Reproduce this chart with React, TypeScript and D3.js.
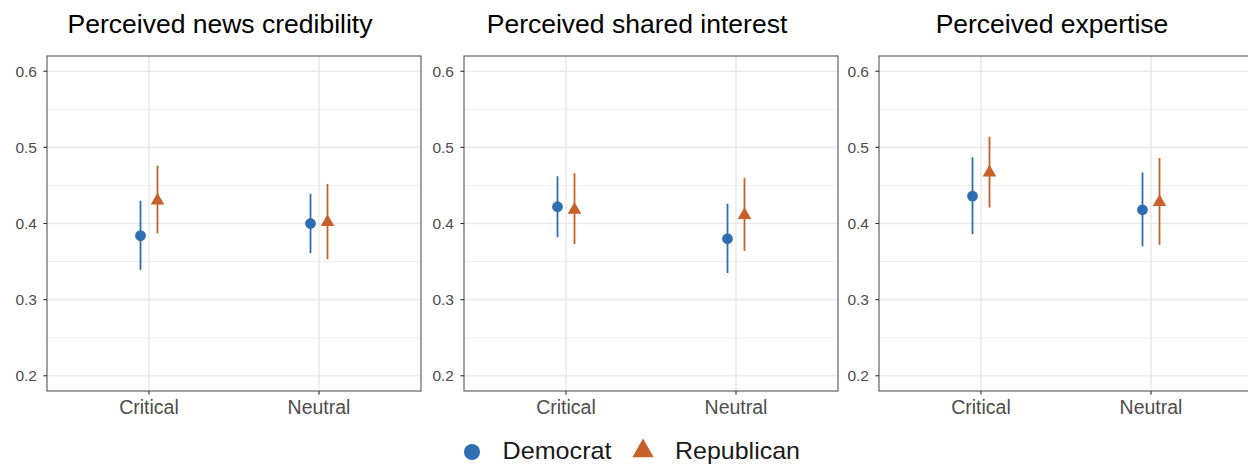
import React from "react";
import * as d3 from "d3";

const panelTitles = ["Perceived news credibility", "Perceived shared interest", "Perceived expertise"];
const conditions = ["Critical", "Neutral"];
const parties = ["Democrat", "Republican"];
const yTicks = [0.2, 0.3, 0.4, 0.5, 0.6];
const yMinorTicks = [0.25, 0.35, 0.45, 0.55];

// [panel][condition]
const demEstimate = [[0.384, 0.400], [0.422, 0.380], [0.436, 0.418]];
const demLower = [[0.339, 0.361], [0.382, 0.335], [0.386, 0.370]];
const demUpper = [[0.430, 0.439], [0.462, 0.426], [0.487, 0.467]];
const repEstimate = [[0.430, 0.402], [0.418, 0.411], [0.467, 0.428]];
const repLower = [[0.387, 0.353], [0.373, 0.364], [0.421, 0.372]];
const repUpper = [[0.476, 0.452], [0.466, 0.460], [0.514, 0.486]];

const W = 1248;
const H = 464;
const panelLefts = [47, 464, 879];
const panelWidth = 374;
const top = 56;
const bottom = 391;
const blue = "#2f6eb0";
const orange = "#c8602a";
const font = "'Liberation Sans', Arial, Helvetica, sans-serif";

export default function App() {
  const y = d3.scaleLinear().domain([0.18, 0.62]).range([bottom, top]);
  const partyColor = d3.scaleOrdinal<string, string>().domain(parties).range([blue, orange]);
  const dodge = d3.scaleOrdinal<string, number>().domain(parties).range([-8.5, 8.5]);
  const triSmall = d3.symbol().type(d3.symbolTriangle).size(80)()!;
  const triLegend = d3.symbol().type(d3.symbolTriangle).size(200)()!;

  const series = [
    { party: "Democrat", est: demEstimate, lo: demLower, hi: demUpper },
    { party: "Republican", est: repEstimate, lo: repLower, hi: repUpper },
  ];

  return (
    <svg width={W} height={H} style={{ position: "absolute", left: 0, top: 0, background: "#fff" }} fontFamily={font}>
      {panelTitles.map((title, pi) => {
        const left = panelLefts[pi];
        // ggplot discrete expansion: 0.6 units on each side of 2 categories
        const xc = d3.scaleLinear().domain([0.4, 2.6]).range([left, left + panelWidth]);
        const catX = (c: string) => xc(conditions.indexOf(c) + 1);
        return (
          <g key={title}>
            <defs>
              <clipPath id={`clip${pi}`}>
                <rect x={left} y={top} width={panelWidth} height={bottom - top} />
              </clipPath>
            </defs>
            <text x={left + panelWidth / 2 - 14} y={33} textAnchor="middle" fontSize={26.5} fill="#000">
              {title}
            </text>
            <g clipPath={`url(#clip${pi})`}>
              <rect x={left} y={top} width={panelWidth} height={bottom - top} fill="#fff" />
              {yMinorTicks.map((t) => (
                <line key={"m" + t} x1={left} x2={left + panelWidth} y1={y(t)} y2={y(t)} stroke="#ebebeb" strokeWidth={0.8} />
              ))}
              {yTicks.map((t) => (
                <line key={"M" + t} x1={left} x2={left + panelWidth} y1={y(t)} y2={y(t)} stroke="#ebebeb" strokeWidth={1.6} />
              ))}
              {conditions.map((c) => (
                <line key={c} x1={catX(c)} x2={catX(c)} y1={top} y2={bottom} stroke="#ebebeb" strokeWidth={1.6} />
              ))}
              {series.map((s) =>
                conditions.map((c, ci) => {
                  const px = catX(c) + dodge(s.party);
                  return (
                    <g key={s.party + c}>
                      <line
                        x1={px}
                        x2={px}
                        y1={y(s.lo[pi][ci])}
                        y2={y(s.hi[pi][ci])}
                        stroke={partyColor(s.party)}
                        strokeWidth={1.8}
                      />
                      {s.party === "Democrat" ? (
                        <circle cx={px} cy={y(s.est[pi][ci])} r={5.4} fill={partyColor(s.party)} />
                      ) : (
                        <path d={triSmall} transform={`translate(${px},${y(s.est[pi][ci])})`} fill={partyColor(s.party)} />
                      )}
                    </g>
                  );
                })
              )}
            </g>
            <rect x={left} y={top} width={panelWidth} height={bottom - top} fill="none" stroke="#555" strokeWidth={1.1} />
            {yTicks.map((t) => (
              <g key={"t" + t}>
                <line x1={left - 3.7} x2={left} y1={y(t)} y2={y(t)} stroke="#333" strokeWidth={1.1} />
                <text x={left - 10} y={y(t)} dy="0.35em" textAnchor="end" fontSize={15.5} fill="#4d4d4d">
                  {d3.format(".1f")(t)}
                </text>
              </g>
            ))}
            {conditions.map((c) => (
              <g key={"x" + c}>
                <line x1={catX(c)} x2={catX(c)} y1={bottom} y2={bottom + 3.7} stroke="#333" strokeWidth={1.1} />
                <text x={catX(c)} y={bottom + 23} textAnchor="middle" fontSize={19.5} fill="#4d4d4d">
                  {c}
                </text>
              </g>
            ))}
          </g>
        );
      })}
      <g>
        <circle cx={472} cy={452} r={8} fill={blue} />
        <text x={502.5} y={459} fontSize={24} textLength={109} lengthAdjust="spacingAndGlyphs" fill="#1a1a1a">
          {parties[0]}
        </text>
        <path d={triLegend} transform="translate(643,451)" fill={orange} />
        <text x={675} y={459} fontSize={24} textLength={125} lengthAdjust="spacingAndGlyphs" fill="#1a1a1a">
          {parties[1]}
        </text>
      </g>
    </svg>
  );
}
